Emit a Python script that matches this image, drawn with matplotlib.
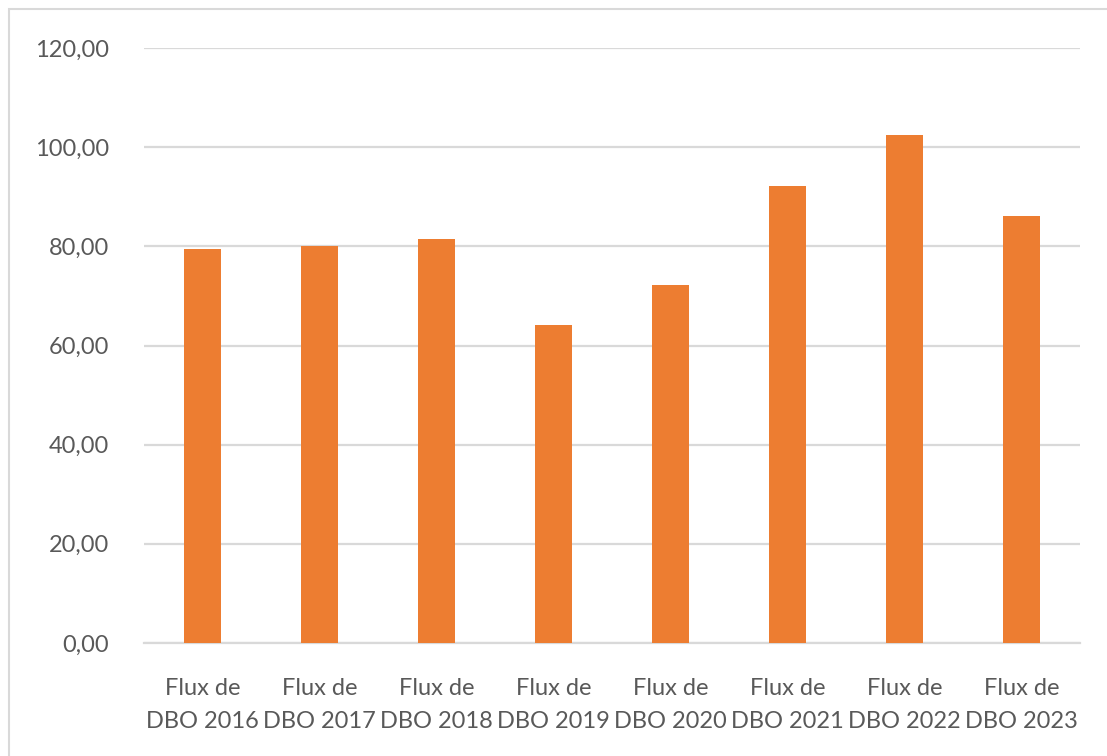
import matplotlib
matplotlib.use("Agg")
import matplotlib.pyplot as plt
from matplotlib.patches import Rectangle
from matplotlib.ticker import FuncFormatter

categories = ["Flux de\nDBO 2016", "Flux de\nDBO 2017", "Flux de\nDBO 2018", "Flux de\nDBO 2019",
              "Flux de\nDBO 2020", "Flux de\nDBO 2021", "Flux de\nDBO 2022", "Flux de\nDBO 2023"]
values = [79.4, 80.1, 81.4, 64.2, 72.3, 92.2, 102.4, 86.2]
yticks = [0, 20, 40, 60, 80, 100, 120]

plt.rcParams['font.family'] = ['Lato', 'DejaVu Sans']

W, H = 1107, 756
fig = plt.figure(figsize=(W/100, H/100), dpi=100)
fig.patch.set_facecolor('white')

# chart border
fig.add_artist(Rectangle((9/W, -0.01), 1.02, 1 - 9/H + 0.01, transform=fig.transFigure,
                         fill=False, edgecolor='#d9d9d9', linewidth=1.5))

ax = fig.add_axes([144/W, (H-643)/H, (1080-144)/W, (643-48)/H])
x = range(len(categories))
ax.bar(x, values, width=0.316, color='#ED7D31', zorder=3)
ax.set_xlim(-0.5, len(categories)-0.5)
ax.set_ylim(0, 120)
ax.set_yticks(yticks)
ax.yaxis.set_major_formatter(FuncFormatter(lambda v, p: f"{v:.2f}".replace('.', ',')))
ax.set_xticks(list(x))
ax.set_xticklabels(categories, linespacing=1.75)
ax.grid(axis='y', color='#d9d9d9', linewidth=1.6, zorder=0)
for s in ['top', 'right', 'left']:
    ax.spines[s].set_visible(False)
ax.spines['bottom'].set_color('#d9d9d9')
ax.spines['bottom'].set_linewidth(1.6)
ax.tick_params(axis='both', length=0, colors='#595959', labelsize=17)
ax.tick_params(axis='y', pad=25)
ax.tick_params(axis='x', pad=25)

fig.savefig("out.png", dpi=100, facecolor='white')
